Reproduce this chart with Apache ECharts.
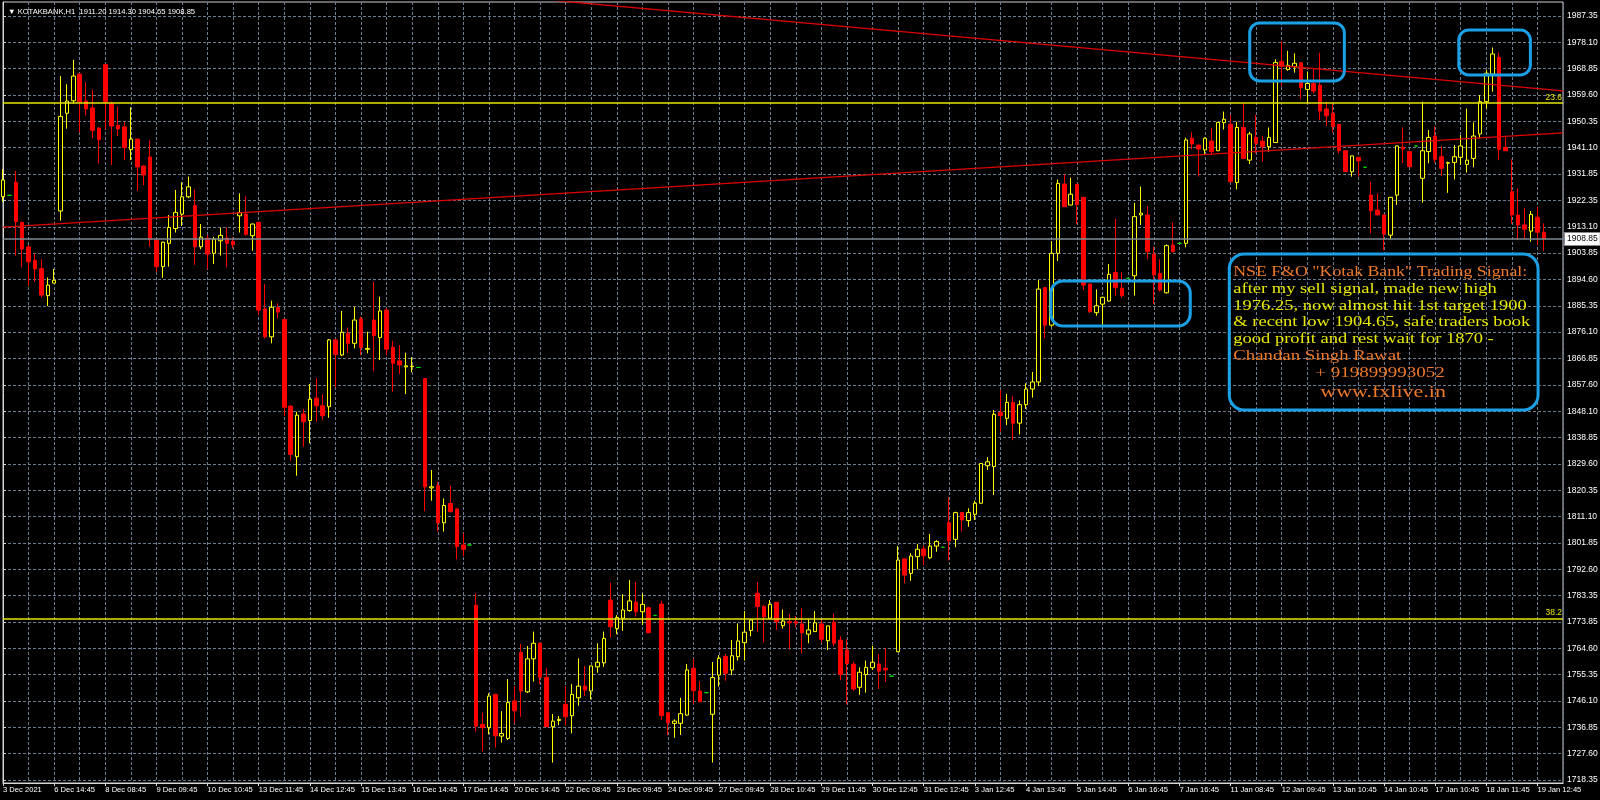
<!DOCTYPE html>
<html><head><meta charset="utf-8">
<script src="https://cdn.jsdelivr.net/npm/echarts@6/dist/echarts.min.js"></script>
<style>html,body{margin:0;padding:0;background:#000;}#c{width:1600px;height:800px;}</style>
</head><body><div id="c"></div>
<script>
// ---- data (hourly bars) ----
const openP = [
1923.7,1924.2,1928.8,1914.7,1906.0,1901.3,1898.4,1888.9,1893.3,1918.7,
1953.1,1957.5,1966.9,1957.4,1955.0,1947.9,1970.2,1956.6,1948.8,1948.3,
1940.3,1944.0,1934.5,1937.7,1908.5,1899.1,1907.3,1912.5,1917.6,1923.7,
1920.6,1906.1,1909.1,1903.8,1908.2,1909.2,1908.0,1917.0,1917.6,1910.0,
1914.7,1884.2,1874.4,1884.7,1880.5,1850.0,1832.2,1847.2,1844.9,1852.8,
1850.1,1849.8,1873.3,1868.0,1875.6,1872.1,1880.7,1870.0,1880.3,1874.1,
1883.8,1870.7,1865.9,1863.8,1863.9,1863.6,1859.7,1821.2,1822.0,1808.9,
1815.7,1813.8,1801.1,1801.1,1779.9,1737.9,1736.8,1748.5,1733.8,1733.0,
1746.2,1763.2,1749.4,1761.0,1766.5,1754.5,1737.1,1739.3,1745.0,1741.0,
1747.3,1751.4,1749.7,1758.2,1759.6,1781.7,1771.7,1775.3,1778.0,1781.0,
1777.6,1779.0,1776.3,1780.3,1742.0,1738.3,1738.3,1741.2,1757.7,1749.7,
1749.1,1741.5,1755.3,1761.8,1757.1,1761.8,1766.7,1771.0,1784.1,1779.4,
1775.3,1780.9,1772.7,1774.1,1774.1,1773.3,1769.7,1770.6,1773.3,1767.4,
1773.9,1767.6,1764.1,1759.1,1751.0,1755.5,1757.9,1759.2,1757.7,1754.9,
1763.5,1796.2,1791.1,1797.0,1799.7,1796.6,1800.7,1800.3,1808.9,1803.1,
1812.5,1809.7,1811.9,1815.8,1829.0,1828.7,1847.7,1845.7,1851.3,1844.0,
1850.5,1856.0,1858.5,1891.7,1878.5,1903.8,1928.2,1920.8,1928.1,1923.5,
1893.0,1882.9,1885.9,1887.0,1897.0,1891.5,1895.0,1895.9,1917.3,1917.3,
1903.5,1896.7,1889.9,1906.7,1907.3,1907.3,1944.3,1941.9,1940.2,1943.3,
1939.9,1949.8,1949.2,1928.7,1948.1,1936.6,1944.6,1943.3,1941.3,1942.8,
1971.3,1968.5,1969.5,1970.9,1961.5,1963.6,1963.0,1954.6,1953.1,1949.2,
1939.9,1932.5,1937.6,1934.1,1924.3,1919.0,1917.3,1910.2,1924.3,1941.1,
1939.6,1941.6,1930.2,1939.6,1945.1,1937.8,1935.5,1935.8,1937.6,1935.1,
1937.2,1945.8,1957.2,1966.9,1972.8,1941.1,1925.5,1917.3,1913.8,1911.6,
1916.5,1911.2];
const highP = [
1933.4,1924.2,1932.8,1914.9,1906.7,1903.8,1901.7,1895.3,1898.3,1966.2,
1963.3,1971.9,1967.2,1964.1,1961.5,1948.2,1970.4,1957.2,1955.4,1950.1,
1955.2,1944.2,1934.9,1943.7,1908.7,1907.9,1917.3,1926.1,1928.8,1930.8,
1926.3,1914.1,1910.2,1909.6,1912.8,1912.9,1909.4,1924.9,1923.9,1914.3,
1914.9,1893.0,1887.1,1886.2,1880.8,1850.2,1848.0,1848.9,1857.8,1859.9,
1854.2,1873.6,1873.6,1883.5,1877.7,1885.0,1881.5,1876.2,1893.8,1888.5,
1884.4,1873.0,1871.5,1868.8,1867.2,1863.6,1859.9,1827.5,1823.4,1817.5,
1822.0,1814.0,1805.2,1801.1,1784.1,1742.0,1748.9,1748.7,1742.6,1753.9,
1751.4,1766.2,1765.5,1770.6,1766.7,1757.7,1741.6,1740.9,1751.4,1752.1,
1761.2,1758.5,1758.6,1766.5,1770.6,1787.8,1776.4,1783.8,1788.8,1788.1,
1784.1,1779.4,1776.3,1781.5,1742.1,1739.7,1747.3,1759.2,1761.0,1753.2,
1749.1,1759.9,1762.3,1762.7,1767.6,1773.5,1777.8,1774.9,1788.0,1780.0,
1781.7,1781.0,1778.4,1776.8,1776.1,1778.8,1774.9,1777.8,1774.7,1772.7,
1777.0,1769.0,1767.9,1760.0,1758.0,1760.4,1765.6,1762.7,1764.7,1754.9,
1800.7,1796.3,1798.2,1801.4,1800.9,1805.0,1802.8,1800.3,1817.9,1812.8,
1812.6,1814.0,1816.7,1829.9,1832.0,1848.6,1855.7,1854.3,1853.5,1852.0,
1858.0,1862.0,1894.4,1891.8,1908.1,1929.8,1931.6,1930.4,1928.2,1923.6,
1893.1,1891.1,1888.5,1900.0,1915.9,1897.1,1895.0,1921.6,1927.3,1920.4,
1906.1,1901.7,1906.9,1914.6,1907.3,1944.5,1946.4,1942.0,1944.6,1948.0,
1950.0,1953.7,1952.5,1950.1,1956.8,1946.6,1952.5,1945.1,1948.1,1972.1,
1978.5,1975.1,1974.2,1971.0,1967.8,1968.9,1974.4,1957.2,1956.6,1949.3,
1940.0,1938.2,1937.7,1934.1,1929.0,1924.9,1917.4,1923.6,1941.7,1948.1,
1939.7,1941.6,1957.2,1947.2,1948.4,1941.6,1936.1,1941.9,1945.4,1954.8,
1949.9,1959.5,1968.3,1976.25,1974.4,1945.1,1936.9,1926.7,1919.6,1918.7,
1920.2,1914.3];
const lowP = [
1922.0,1924.2,1903.0,1898.9,1892.3,1893.8,1888.2,1885.2,1893.2,1915.3,
1947.7,1956.6,1946.3,1952.3,1944.3,1935.4,1947.5,1934.9,1945.1,1936.6,
1936.6,1925.8,1927.8,1906.1,1897.3,1895.2,1899.1,1911.1,1913.4,1923.2,
1899.7,1905.2,1898.3,1900.0,1903.0,1898.9,1905.5,1911.1,1909.9,1904.7,
1882.1,1873.8,1872.1,1880.9,1846.6,1830.8,1825.5,1835.7,1836.9,1844.5,
1845.1,1845.9,1856.6,1867.6,1868.6,1870.3,1868.0,1868.6,1862.3,1866.2,
1868.0,1855.1,1861.3,1854.2,1861.9,1863.6,1813.0,1816.7,1805.8,1805.8,
1812.6,1796.0,1797.2,1801.1,1735.4,1728.5,1734.4,1729.8,1731.5,1732.4,
1738.3,1740.6,1749.0,1753.0,1752.1,1737.0,1724.5,1737.7,1737.5,1734.8,
1744.5,1747.9,1746.7,1756.1,1758.2,1768.5,1769.7,1770.9,1777.6,1775.9,
1772.9,1770.1,1776.3,1739.5,1734.2,1733.2,1734.2,1741.0,1745.3,1745.8,
1749.1,1724.5,1751.2,1753.3,1755.3,1760.4,1760.4,1769.0,1770.6,1766.7,
1775.2,1771.2,1771.7,1764.3,1772.1,1762.9,1766.5,1770.5,1766.7,1764.1,
1765.5,1753.5,1745.0,1749.8,1748.3,1749.1,1757.1,1750.4,1752.9,1754.9,
1763.4,1787.6,1788.5,1792.5,1794.0,1796.2,1798.7,1800.3,1795.6,1800.3,
1805.8,1807.5,1809.9,1815.7,1827.5,1818.7,1841.0,1843.3,1838.0,1840.0,
1849.0,1853.0,1857.0,1873.9,1877.9,1901.1,1920.1,1920.7,1914.0,1890.9,
1882.9,1881.8,1878.5,1886.8,1888.9,1888.2,1895.0,1888.9,1913.8,1901.7,
1885.9,1890.3,1889.7,1904.0,1907.3,1905.9,1940.4,1930.8,1938.4,1938.4,
1939.8,1947.4,1928.9,1926.3,1937.1,1935.2,1939.0,1936.1,1939.6,1942.6,
1962.5,1968.1,1967.4,1958.0,1956.6,1960.1,1950.7,1948.6,1946.3,1939.0,
1932.5,1930.8,1930.8,1934.1,1910.8,1917.2,1904.9,1908.7,1920.8,1935.5,
1934.2,1941.6,1921.6,1935.5,1935.7,1931.0,1925.1,1929.8,1934.9,1932.2,
1934.1,1944.3,1954.8,1960.7,1936.6,1939.8,1914.3,1908.5,1908.7,1907.9,
1906.7,1904.65];
const closeP = [
1929.6,1924.2,1914.9,1905.3,1900.8,1898.3,1889.1,1892.6,1894.3,1952.0,
1957.4,1966.2,1957.1,1954.6,1947.1,1943.8,1957.2,1948.6,1947.6,1941.0,
1944.0,1934.2,1931.4,1908.7,1899.1,1907.7,1912.9,1918.2,1923.7,1927.2,
1906.1,1909.5,1903.5,1908.8,1910.1,1907.3,1906.8,1918.1,1910.5,1914.1,
1883.8,1874.4,1884.8,1883.1,1849.6,1833.0,1846.8,1844.5,1852.4,1850.1,
1846.6,1873.3,1868.2,1876.0,1872.1,1880.3,1870.6,1870.3,1874.8,1883.5,
1870.0,1865.1,1864.5,1864.2,1864.1,1863.6,1821.6,1821.6,1808.9,1815.0,
1812.8,1800.5,1799.6,1801.1,1737.3,1736.8,1747.9,1733.9,1734.7,1745.6,
1742.7,1749.7,1761.0,1766.5,1754.5,1737.1,1739.1,1739.7,1740.6,1748.5,
1751.4,1750.0,1758.5,1759.8,1768.2,1772.3,1775.6,1778.2,1781.4,1777.6,
1780.2,1770.2,1776.3,1741.0,1738.5,1739.1,1741.7,1757.1,1749.8,1745.9,
1749.1,1754.4,1761.2,1755.9,1762.1,1767.3,1770.4,1774.7,1779.4,1775.8,
1780.2,1774.1,1774.3,1773.7,1773.6,1770.2,1771.2,1773.7,1767.9,1772.6,
1766.5,1755.5,1759.4,1750.4,1756.3,1758.0,1759.8,1756.7,1757.1,1754.9,
1795.8,1790.5,1797.2,1799.6,1797.3,1800.7,1802.3,1800.3,1802.6,1812.5,
1809.9,1812.5,1815.8,1829.8,1830.4,1847.1,1846.7,1851.3,1844.0,1850.5,
1856.0,1858.5,1891.2,1878.5,1903.8,1928.4,1920.2,1924.6,1921.0,1892.6,
1883.2,1885.3,1888.3,1896.4,1891.7,1888.9,1895.0,1916.7,1917.9,1904.4,
1896.2,1890.9,1906.5,1904.4,1907.3,1943.7,1942.3,1940.5,1944.3,1939.6,
1949.9,1951.0,1929.0,1948.1,1937.2,1945.8,1942.5,1941.3,1944.6,1971.0,
1969.7,1970.0,1970.7,1962.1,1963.6,1960.9,1953.9,1952.2,1948.4,1939.9,
1932.6,1938.1,1936.4,1934.1,1918.8,1917.3,1910.6,1923.5,1941.6,1940.5,
1934.3,1941.6,1939.9,1944.6,1936.9,1933.7,1935.7,1937.8,1941.6,1936.6,
1945.1,1957.2,1967.2,1974.0,1940.4,1939.9,1917.3,1913.8,1912.3,1917.5,
1911.2,1908.85];

const xTickLabels = ['3 Dec 2021','6 Dec 14:45','8 Dec 08:45','9 Dec 09:45','10 Dec 10:45','13 Dec 11:45',
'14 Dec 12:45','15 Dec 13:45','16 Dec 14:45','17 Dec 14:45','20 Dec 14:45','22 Dec 08:45','23 Dec 09:45',
'24 Dec 09:45','27 Dec 09:45','28 Dec 10:45','29 Dec 11:45','30 Dec 12:45','31 Dec 12:45','3 Jan 12:45',
'4 Jan 13:45','5 Jan 14:45','6 Jan 16:45','7 Jan 16:45','11 Jan 08:45','12 Jan 09:45','13 Jan 10:45',
'14 Jan 10:45','17 Jan 10:45','18 Jan 11:45','19 Jan 12:45'];
const yTickLabels = ['1718.35','1727.60','1736.85','1746.10','1755.35','1764.60','1773.85','1783.35',
'1792.60','1801.85','1811.10','1820.35','1829.60','1838.85','1848.10','1857.60','1866.85','1876.10',
'1885.35','1894.60','1903.85','1913.10','1922.35','1931.85','1941.10','1950.35','1959.60','1968.85',
'1978.10','1987.35'];
const fibLevels = [1956.83, 1775.25];
const fibNames = ['23.6', '38.2'];
const lastPrice = 1908.85;
const trendDown = [[84, 1993.25], [244, 1961.0]];
const trendUp = [[0, 1913.0], [244, 1946.2]];
const titleText = '\u25BC KOTAKBANK,H1  1911.20 1914.30 1904.65 1908.85';
const noteLines = [
  ['NSE F&O "Kotak Bank" Trading Signal:', 'o'],
  ['after my sell signal, made new high', 'y'],
  ['1976.25, now almost hit 1st target 1900', 'y'],
  ['& recent low 1904.65, safe traders book', 'y'],
  ['good profit and rest wait for 1870 -', 'y'],
  ['Chandan Singh Rawat', 'o'],
  ['+ 919899993052', 'o'],
  ['www.fxlive.in', 'o']
];
// annotation boxes in data units: [idx0, price0, idx1, price1, radius]
const boxes = [
  [195.0, 1984.9, 209.8, 1964.5, 10],
  [227.7, 1982.4, 238.9, 1966.6, 10],
  [163.9, 1894.05, 185.7, 1878.2, 12],
  [191.8, 1903.55, 240.1, 1848.6, 15]
];

// ---- build ----
const N = 245; // category slots (242 bars + right shift)
const cats = Array.from({length: N}, (_, i) => String(i));
const yBase = 1718.35, yStep = (1987.35 - 1718.35) / 29;
const yTicks = yTickLabels.map((s, k) => yBase + k * yStep);
const yMin = yBase - 3 / 2.8402, yMax = 1987.35 + 14 / 2.8402;
const FONT = 'Liberation Sans';
const GRIDC = '#6c7c8c';
const candles = openP.map((o, i) => {
  const v = [o, closeP[i], lowP[i], highP[i]];
  if (o === closeP[i] && o === highP[i] && o === lowP[i]) {
    return {value: v, itemStyle: {color: '#00e000', borderColor: '#00e000', color0: '#00e000', borderColor0: '#00e000'}};
  }
  return v;
});

const chart = echarts.init(document.getElementById('c'), null, {renderer: 'canvas', width: 1600, height: 800});
chart.setOption({
  backgroundColor: '#000000',
  animation: false,
  title: {text: titleText, left: 3, top: 3, textStyle: {color: '#ffffff', fontSize: 7.6, fontWeight: 'normal', fontFamily: FONT}},
  grid: {left: 3, top: 2, width: 1560, height: 781, show: true, borderColor: '#cfcfcf', borderWidth: 1,
         backgroundColor: 'transparent', containLabel: false, outerBoundsMode: 'none'},
  xAxis: [{
    type: 'category', data: cats, boundaryGap: false,
    axisLine: {show: true, lineStyle: {color: '#d8d8d8'}},
    axisTick: {show: true, interval: 7, length: 3, lineStyle: {color: '#d8d8d8'}},
    axisLabel: {interval: 7, align: 'left', color: '#ffffff', fontSize: 7.6, fontFamily: FONT, margin: 3,
      formatter: (v, i) => (i % 8 === 0 ? (xTickLabels[i / 8] || '') : '')},
    splitLine: {show: true, interval: 3, lineStyle: {color: GRIDC, type: [3, 2], width: 1}}
  }, {type: 'value', min: 0, max: N - 1, show: false}],
  yAxis: {
    type: 'value', position: 'right', min: yMin, max: yMax,
    axisLine: {show: true, lineStyle: {color: '#d8d8d8'}},
    axisTick: {show: true, customValues: yTicks, length: 3, lineStyle: {color: '#d8d8d8'}},
    axisLabel: {customValues: yTicks, color: '#ffffff', fontSize: 8.5, fontFamily: FONT, margin: 4,
      formatter: v => yTickLabels[Math.round((v - yBase) / yStep)] || ''},
    splitLine: {show: true, lineStyle: {color: GRIDC, type: [3, 2], width: 1}}
  },
  series: [{
    type: 'candlestick', xAxisIndex: 0, yAxisIndex: 0, data: candles, barWidth: 4,
    itemStyle: {color: '#000000', color0: '#ff0000', borderColor: '#ffff00', borderColor0: '#ff0000', borderWidth: 1},
    markLine: {
      symbol: ['none', 'none'], silent: true, animation: false,
      data: [
        {yAxis: fibLevels[0], lineStyle: {color: '#e6e600', width: 1.5, type: 'solid'},
         label: {show: true, position: 'insideEndTop', formatter: fibNames[0], color: '#e6e600', fontSize: 8.5, fontFamily: FONT, distance: [1, 1]}},
        {yAxis: fibLevels[1], lineStyle: {color: '#e6e600', width: 1.5, type: 'solid'},
         label: {show: true, position: 'insideEndTop', formatter: fibNames[1], color: '#e6e600', fontSize: 8.5, fontFamily: FONT, distance: [1, 1]}},
        {yAxis: lastPrice, lineStyle: {color: '#7d8a96', width: 1.5, type: 'solid'},
         label: {show: true, position: 'end', formatter: lastPrice.toFixed(2), color: '#000000', backgroundColor: '#ffffff',
                 borderColor: '#8a8a8a', borderWidth: 1, padding: [2, 2, 1, 2], fontSize: 8.5, fontFamily: FONT, distance: 2}}
      ]
    }
  }, {
    type: 'line', xAxisIndex: 1, yAxisIndex: 0, data: trendDown, symbol: 'none', silent: true, clip: true,
    lineStyle: {color: '#e00000', width: 1.3}
  }, {
    type: 'line', xAxisIndex: 1, yAxisIndex: 0, data: trendUp, symbol: 'none', silent: true, clip: true,
    lineStyle: {color: '#e00000', width: 1.3}
  }]
});

// annotations positioned through the chart's own scales
const toPx = (x, y) => chart.convertToPixel({seriesIndex: 1}, [x, y]);
const graphics = [];
const pxBoxes = boxes.map(b => {
  const p0 = toPx(b[0], b[1]), p1 = toPx(b[2], b[3]);
  const r = {x: p0[0], y: p0[1], w: p1[0] - p0[0], h: p1[1] - p0[1]};
  graphics.push({type: 'rect', z: 100, shape: {x: r.x, y: r.y, width: r.w, height: r.h, r: b[4]},
                 style: {fill: 'none', stroke: '#1ba0e6', lineWidth: 3}});
  return r;
});
const tb = pxBoxes[3];
const lineDy = [18, 35, 52, 68, 85, 102, 119, 138];
const lineDx = [4, 4, 4, 4, 4, 4, 86, 91];
const lineFs = [17.8, 18.5, 18.5, 18.5, 18.5, 18.8, 19, 22];
noteLines.forEach((ln, k) => {
  graphics.push({type: 'text', z: 101, x: tb.x + lineDx[k], y: tb.y + lineDy[k], scaleY: 0.8,
    style: {text: ln[0], fill: ln[1] === 'o' ? '#f07a2a' : '#e8e800',
            fontSize: lineFs[k], fontFamily: 'Liberation Serif', verticalAlign: 'middle', align: 'left'}});
});
chart.setOption({graphic: graphics});
</script>
</body></html>
